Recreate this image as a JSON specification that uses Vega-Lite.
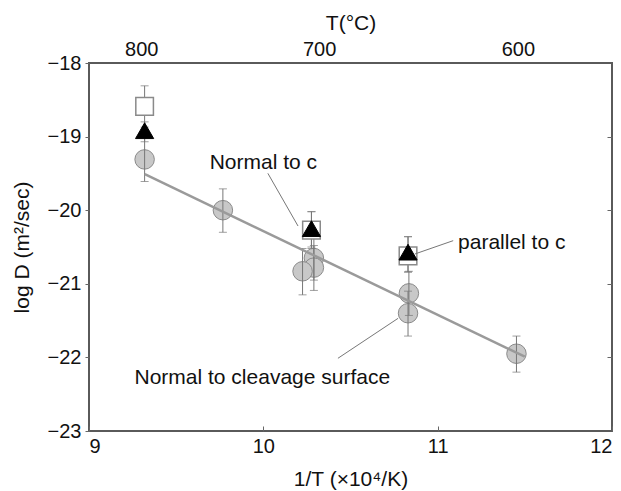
{
"$schema": "https://vega.github.io/schema/vega-lite/v6.json",
"width": 523, "height": 368,
"autosize": {"type": "none"},
"padding": {"left": 89, "top": 63, "right": 9, "bottom": 60},
"config": {
  "view": {"stroke": "#5a5a5a", "strokeWidth": 2},
  "axis": {"grid": false, "domain": false, "labelFont": "Liberation Sans", "titleFont": "Liberation Sans", "labelFontSize": 20, "titleFontSize": 21, "titleFontWeight": "normal", "labelColor": "#111", "titleColor": "#111", "tickColor": "#666", "tickWidth": 1}
},
"datasets": {
  "pts": [
    {"series": "square", "x": 9.319, "y": -18.59, "lo": -18.87, "hi": -18.31},
    {"series": "square", "x": 10.276, "y": -20.27, "lo": -20.52, "hi": -20.02},
    {"series": "square", "x": 10.83, "y": -20.62, "lo": -20.84, "hi": -20.36},
    {"series": "triangle", "x": 9.319, "y": -18.92, "lo": -19.07, "hi": -18.80},
    {"series": "triangle", "x": 10.276, "y": -20.25, "lo": -20.5, "hi": -20.02},
    {"series": "triangle", "x": 10.83, "y": -20.57, "lo": -20.84, "hi": -20.36},
    {"series": "circle", "x": 9.319, "y": -19.31, "lo": -19.61, "hi": -19.01},
    {"series": "circle", "x": 9.768, "y": -20.0, "lo": -20.3, "hi": -19.71},
    {"series": "circle", "x": 10.29, "y": -20.65, "lo": -20.95, "hi": -20.35},
    {"series": "circle", "x": 10.29, "y": -20.78, "lo": -21.09, "hi": -20.48},
    {"series": "circle", "x": 10.225, "y": -20.83, "lo": -21.15, "hi": -20.52},
    {"series": "circle", "x": 10.835, "y": -21.13, "lo": -21.43, "hi": -20.83},
    {"series": "circle", "x": 10.83, "y": -21.40, "lo": -21.71, "hi": -21.10},
    {"series": "circle", "x": 11.452, "y": -21.95, "lo": -22.2, "hi": -21.71}
  ],
  "fit": [
    {"x": 9.32, "y": -19.51},
    {"x": 11.5, "y": -21.99}
  ],
  "leaders": [
    {"x": 10.026, "y": -19.499, "x2": 10.199, "y2": -20.215},
    {"x": 11.089, "y": -20.414, "x2": 10.869, "y2": -20.595},
    {"x": 10.428, "y": -22.012, "x2": 10.773, "y2": -21.469}
  ],
  "labels": [
    {"x": 9.692, "y": -19.355, "text": "Normal to c"},
    {"x": 11.117, "y": -20.45, "text": "parallel to c"},
    {"x": 9.261, "y": -22.28, "text": "Normal to cleavage surface"}
  ]
},
"layer": [
  {
    "data": {"name": "pts"},
    "transform": [{"filter": "datum.series === 'circle'"}],
    "mark": {"type": "point", "shape": "circle", "filled": true, "fill": "#c8c8c8", "stroke": "#8a8a8a", "strokeWidth": 1, "size": 380, "opacity": 1},
    "encoding": {
      "x": {"field": "x", "type": "quantitative", "scale": {"domain": [9, 12], "nice": false, "zero": false},
        "axis": {"orient": "bottom", "values": [9, 10, 11, 12], "tickSize": -5, "labelPadding": 10, "title": "1/T (×10⁴/K)", "titlePadding": 12}},
      "y": {"field": "y", "type": "quantitative", "scale": {"domain": [-23, -18], "nice": false, "zero": false},
        "axis": {"orient": "left", "values": [-23, -22, -21, -20, -19, -18], "tickSize": 4, "labelPadding": 4, "title": "log D (m²/sec)", "titlePadding": 15}}
    }
  },
  {
    "data": {"name": "pts"},
    "mark": {"type": "rule", "color": "#777", "strokeWidth": 1},
    "encoding": {
      "x": {"field": "x", "type": "quantitative", "scale": {"domain": [9, 12], "nice": false, "zero": false}, "axis": null},
      "y": {"field": "lo", "type": "quantitative", "scale": {"domain": [-23, -18], "nice": false, "zero": false}, "axis": null},
      "y2": {"field": "hi"}
    }
  },
  {
    "data": {"name": "pts"},
    "mark": {"type": "tick", "orient": "horizontal", "color": "#777", "size": 8, "thickness": 1},
    "encoding": {
      "x": {"field": "x", "type": "quantitative", "scale": {"domain": [9, 12], "nice": false, "zero": false}, "axis": null},
      "y": {"field": "lo", "type": "quantitative", "scale": {"domain": [-23, -18], "nice": false, "zero": false}, "axis": null}
    }
  },
  {
    "data": {"name": "pts"},
    "mark": {"type": "tick", "orient": "horizontal", "color": "#777", "size": 8, "thickness": 1},
    "encoding": {
      "x": {"field": "x", "type": "quantitative", "scale": {"domain": [9, 12], "nice": false, "zero": false}, "axis": null},
      "y": {"field": "hi", "type": "quantitative", "scale": {"domain": [-23, -18], "nice": false, "zero": false}, "axis": null}
    }
  },
  {
    "data": {"name": "pts"},
    "transform": [{"filter": "datum.series === 'square'"}],
    "mark": {"type": "point", "shape": "square", "filled": true, "fill": "#ffffff", "stroke": "#8a8a8a", "strokeWidth": 1.5, "size": 310, "opacity": 1},
    "encoding": {
      "x": {"field": "x", "type": "quantitative", "scale": {"domain": [9, 12], "nice": false, "zero": false}, "axis": null},
      "y": {"field": "y", "type": "quantitative", "scale": {"domain": [-23, -18], "nice": false, "zero": false}, "axis": null}
    }
  },
  {
    "data": {"name": "pts"},
    "transform": [{"filter": "datum.series === 'triangle'"}],
    "mark": {"type": "point", "shape": "triangle-up", "filled": true, "fill": "#000000", "stroke": "#000000", "strokeWidth": 1, "size": 330, "opacity": 1},
    "encoding": {
      "x": {"field": "x", "type": "quantitative", "scale": {"domain": [9, 12], "nice": false, "zero": false}, "axis": null},
      "y": {"field": "y", "type": "quantitative", "scale": {"domain": [-23, -18], "nice": false, "zero": false}, "axis": null}
    }
  },
  {
    "data": {"name": "fit"},
    "mark": {"type": "line", "color": "#9a9a9a", "strokeWidth": 2.5},
    "encoding": {
      "x": {"field": "x", "type": "quantitative", "scale": {"domain": [9, 12], "nice": false, "zero": false}, "axis": null},
      "y": {"field": "y", "type": "quantitative", "scale": {"domain": [-23, -18], "nice": false, "zero": false}, "axis": null}
    }
  },
  {
    "data": {"name": "leaders"},
    "mark": {"type": "rule", "color": "#777", "strokeWidth": 1},
    "encoding": {
      "x": {"field": "x", "type": "quantitative", "scale": {"domain": [9, 12], "nice": false, "zero": false}, "axis": null},
      "y": {"field": "y", "type": "quantitative", "scale": {"domain": [-23, -18], "nice": false, "zero": false}, "axis": null},
      "x2": {"field": "x2"},
      "y2": {"field": "y2"}
    }
  },
  {
    "data": {"name": "labels"},
    "mark": {"type": "text", "align": "left", "baseline": "middle", "font": "Liberation Sans", "fontSize": 21, "color": "#111"},
    "encoding": {
      "x": {"field": "x", "type": "quantitative", "scale": {"domain": [9, 12], "nice": false, "zero": false}, "axis": null},
      "y": {"field": "y", "type": "quantitative", "scale": {"domain": [-23, -18], "nice": false, "zero": false}, "axis": null},
      "text": {"field": "text"}
    }
  },
  {
    "data": {"name": "fit"},
    "mark": {"type": "point", "opacity": 0},
    "encoding": {
      "x": {"field": "x", "type": "quantitative", "scale": {"domain": [9, 12], "nice": false, "zero": false},
        "axis": {"orient": "top", "values": [9.30, 10.32, 11.46], "labelExpr": "datum.value < 9.5 ? '800' : (datum.value < 11 ? '700' : '600')", "ticks": false, "labelPadding": 4, "title": "T(°C)", "titlePadding": 6}},
      "y": {"field": "y", "type": "quantitative", "scale": {"domain": [-23, -18], "nice": false, "zero": false},
        "axis": {"orient": "right", "values": [-22, -21, -20, -19], "labels": false, "tickSize": -5, "title": null}}
    }
  }
],
"resolve": {"axis": {"x": "independent", "y": "independent"}}
}
